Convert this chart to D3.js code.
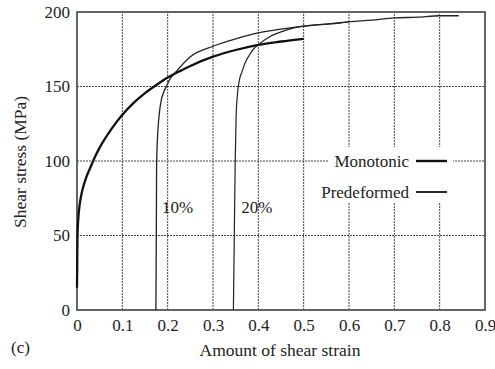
<!DOCTYPE html>
<html>
<head>
<meta charset="utf-8">
<script src="https://cdn.jsdelivr.net/npm/d3@7"></script>
<style>
  html, body { margin: 0; padding: 0; background: #fff; }
  svg { display: block; }
  text { font-family: "Liberation Serif", "DejaVu Serif", serif; fill: #222; }
</style>
</head>
<body>
<svg id="chart" width="495" height="369"></svg>
<script>
// ---- data ----
const xTicks = [0, 0.1, 0.2, 0.3, 0.4, 0.5, 0.6, 0.7, 0.8, 0.9];
const xTickLabels = ["0", "0.1", "0.2", "0.3", "0.4", "0.5", "0.6", "0.7", "0.8", "0.9"];
const yTicks = [0, 50, 100, 150, 200];

// Monotonic test (thick curve): [strain, stress MPa]
const monotonic = [
  [0, 15], [0.0005, 30], [0.001, 49], [0.003, 62], [0.006, 71], [0.01, 78],
  [0.015, 84], [0.021, 89.5], [0.03, 96], [0.04, 103], [0.05, 109],
  [0.075, 121], [0.1, 131], [0.125, 139], [0.15, 145.5], [0.175, 151],
  [0.2, 156], [0.225, 160], [0.25, 163.8], [0.3, 170], [0.35, 174.5],
  [0.4, 178], [0.45, 180.2], [0.5, 182]
];

// Predeformed 10% (thin curve)
const pre10 = [
  [0.174, 0], [0.175, 50], [0.1755, 94], [0.177, 112], [0.179, 123],
  [0.182, 133], [0.186, 141], [0.191, 146], [0.197, 150], [0.205, 155],
  [0.212, 157.7], [0.22, 160.5], [0.25, 170], [0.3, 177], [0.35, 182],
  [0.4, 186], [0.45, 188.5], [0.5, 190.5], [0.53, 191.5], [0.56, 192],
  [0.6, 193.5], [0.65, 194.5], [0.7, 196], [0.75, 196.5], [0.8, 197.5],
  [0.842, 197.5]
];

// Predeformed 20% (thin curve)
const pre20 = [
  [0.345, 0], [0.347, 50], [0.349, 100], [0.351, 130], [0.354, 145],
  [0.358, 154], [0.364, 160], [0.371, 166], [0.38, 171], [0.389, 175],
  [0.4, 178], [0.426, 183.5], [0.463, 188], [0.5, 190.5], [0.53, 191.3],
  [0.56, 192.2], [0.6, 193.3]
];

const curveLabels = [
  { text: "10%", x: 0.222, y: 69.3 },
  { text: "20%", x: 0.3965, y: 69.3 }
];
const legendItems = [
  { label: "Monotonic", width: 2.4 },
  { label: "Predeformed", width: 1.8 }
];

// ---- layout ----
const FONT = '"Liberation Serif", "DejaVu Serif", serif';
const svg = d3.select("#chart");
const x = d3.scaleLinear().domain([0, 0.9]).range([77, 485]);
const y = d3.scaleLinear().domain([0, 200]).range([310, 12]);

// grid lines
const grid = svg.append("g");
grid.selectAll("line.vx").data(xTicks.slice(1, -1)).join("line")
  .attr("x1", d => x(d)).attr("x2", d => x(d))
  .attr("y1", y(0)).attr("y2", y(200))
  .attr("stroke", "#444").attr("stroke-width", 1).attr("stroke-dasharray", "2,1");
grid.selectAll("line.hy").data(yTicks.slice(1, -1)).join("line")
  .attr("x1", x(0)).attr("x2", x(0.9))
  .attr("y1", d => y(d)).attr("y2", d => y(d))
  .attr("stroke", "#444").attr("stroke-width", 1).attr("stroke-dasharray", "2,1");

// frame
svg.append("rect")
  .attr("x", x(0)).attr("y", y(200))
  .attr("width", x(0.9) - x(0)).attr("height", y(0) - y(200))
  .attr("fill", "none").attr("stroke", "#555").attr("stroke-width", 1.8);

// axes (labels only, no tick marks)
const xAxis = d3.axisBottom(x).tickValues(xTicks)
  .tickFormat((d, i) => xTickLabels[i]).tickSize(0).tickPadding(9);
svg.append("g").attr("transform", `translate(0,${y(0)})`).call(xAxis)
  .attr("font-family", FONT).attr("font-size", 17)
  .call(g => g.select(".domain").remove())
  .selectAll("text").attr("fill", "#222");

const yAxis = d3.axisLeft(y).tickValues(yTicks).tickSize(0).tickPadding(7);
svg.append("g").attr("transform", `translate(${x(0)},0)`).call(yAxis)
  .attr("font-family", FONT).attr("font-size", 17)
  .call(g => g.select(".domain").remove())
  .selectAll("text").attr("fill", "#222");

// legend background (hides grid lines)
const lg = svg.append("g");
lg.append("rect").attr("x", 328).attr("y", 147).attr("width", 125).attr("height", 55)
  .attr("fill", "#fff");
legendItems.forEach((it, i) => {
  const ly = 161 + i * 31;
  lg.append("text").attr("x", 409).attr("y", ly).attr("dy", "0.35em")
    .attr("text-anchor", "end").attr("font-size", 17).text(it.label);
  lg.append("line").attr("x1", 416).attr("x2", 447).attr("y1", ly).attr("y2", ly)
    .attr("stroke", "#111").attr("stroke-width", it.width);
});

// curves
const line = d3.line().x(d => x(d[0])).y(d => y(d[1])).curve(d3.curveMonotoneX);
svg.append("path").datum(pre20).attr("d", line)
  .attr("fill", "none").attr("stroke", "#222").attr("stroke-width", 1.2);
svg.append("path").datum(pre10).attr("d", line)
  .attr("fill", "none").attr("stroke", "#222").attr("stroke-width", 1.3);
svg.append("path").datum(monotonic).attr("d", line)
  .attr("fill", "none").attr("stroke", "#111").attr("stroke-width", 2.3);

// curve labels
svg.selectAll("text.cl").data(curveLabels).join("text")
  .attr("x", d => x(d.x)).attr("y", d => y(d.y)).attr("dy", "0.35em")
  .attr("text-anchor", "middle").attr("font-size", 17).text(d => d.text);

// axis titles
svg.append("text").attr("x", 280).attr("y", 350).attr("dy", "0.35em")
  .attr("text-anchor", "middle").attr("font-size", 17.5).text("Amount of shear strain");
svg.append("text").attr("transform", "translate(20,162) rotate(-90)").attr("dy", "0.35em")
  .attr("text-anchor", "middle").attr("font-size", 17.5).text("Shear stress (MPa)");
svg.append("text").attr("x", 11).attr("y", 347).attr("dy", "0.35em")
  .attr("font-size", 17).text("(c)");
</script>
</body>
</html>
